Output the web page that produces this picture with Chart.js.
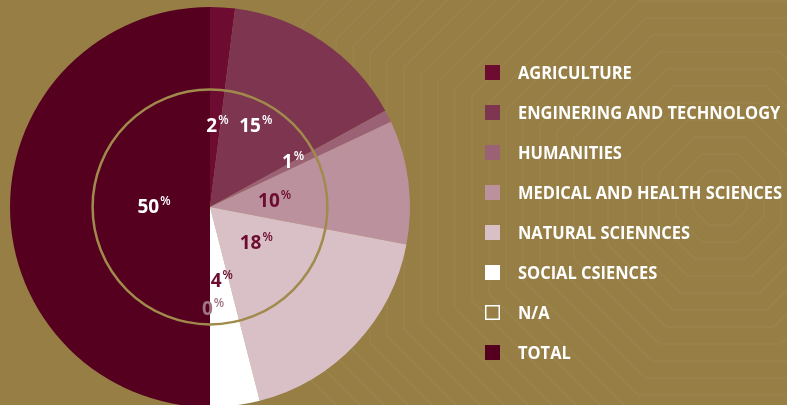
<!DOCTYPE html>
<html lang="en">
  <head>
    <meta charset="UTF-8" />
    <script src="https://cdn.jsdelivr.net/npm/chart.js@4.4.0/dist/chart.umd.min.js"></script>
    <title>Fields of study</title>
    <style>
      html, body {
        margin: 0;
        padding: 0;
        width: 787px;
        height: 405px;
        overflow: hidden;
        background: #967e44;
      }
      canvas { display: block; }
    </style>
  </head>
  <body>
    <canvas id="pie" width="787" height="420"></canvas>
    <script>
      const categories = [
        'AGRICULTURE',
        'ENGINERING AND TECHNOLOGY',
        'HUMANITIES',
        'MEDICAL AND HEALTH SCIENCES',
        'NATURAL SCIENNCES',
        'SOCIAL CSIENCES',
        'N/A',
        'TOTAL',
      ]
      const shares = [2, 15, 1, 10, 18, 4, 0, 50]

      const colors = ['#6d0b30', '#7e3650', '#9b6275', '#bc919e', '#d8c0c6', '#ffffff', 'rgba(0,0,0,0)', '#55001f']
      const labelColors = ['#fff', '#fff', '#fff', '#6d0b30', '#6d0b30', '#6d0b30', '#a07585', '#fff']
      // label placement: fraction of radius, and a nudge (degrees) off the slice middle
      const labelDist = [0.41, 0.47, 0.475, 0.325, 0.29, 0.37, 0.505, 0.28]
      const labelTurn = [1.6, -5.1, -2, 1, -6, -2, -1.7, 1.5]

      const FONT = '"Open Sans", sans-serif'

      const backdrop = {
        id: 'backdrop',
        beforeDraw(chart) {
          const ctx = chart.ctx
          ctx.save()
          ctx.strokeStyle = 'rgba(255,255,255,0.05)'
          ctx.lineWidth = 1.5
          // faint concentric octagons behind the legend
          for (let h = 27; h < 420; h += 17) {
            const c = h * 0.414
            const ox = 720, oy = 198
            ctx.beginPath()
            ctx.moveTo(ox - c, oy - h)
            ctx.lineTo(ox + c, oy - h)
            ctx.lineTo(ox + h, oy - c)
            ctx.lineTo(ox + h, oy + c)
            ctx.lineTo(ox + c, oy + h)
            ctx.lineTo(ox - c, oy + h)
            ctx.lineTo(ox - h, oy + c)
            ctx.lineTo(ox - h, oy - c)
            ctx.closePath()
            ctx.stroke()
          }
          ctx.restore()
        },
      }

      const pctLabels = {
        id: 'pctLabels',
        afterDatasetsDraw(chart) {
          const ctx = chart.ctx
          const arcs = chart.getDatasetMeta(0).data
          const { x: cx, y: cy, outerRadius } = arcs[0]

          // gold inner ring
          ctx.save()
          ctx.beginPath()
          ctx.arc(cx, cy, outerRadius * 0.587, 0, Math.PI * 2)
          ctx.strokeStyle = '#a08a4c'
          ctx.lineWidth = 2.5
          ctx.stroke()

          ctx.textBaseline = 'alphabetic'
          ctx.textAlign = 'left'
          arcs.forEach((arc, i) => {
            const a = (arc.startAngle + arc.endAngle) / 2 + labelTurn[i] * Math.PI / 180
            const r = outerRadius * labelDist[i]
            const x = cx + Math.cos(a) * r
            const y = cy + Math.sin(a) * r
            const num = String(shares[i])
            ctx.font = '700 19px ' + FONT
            const w1 = ctx.measureText(num).width
            ctx.font = '600 12px ' + FONT
            const w2 = ctx.measureText('%').width
            const left = x - (w1 + w2 + 1) / 2
            ctx.fillStyle = labelColors[i]
            ctx.font = '700 19px ' + FONT
            ctx.fillText(num, left, y + 7)
            ctx.font = '600 12px ' + FONT
            ctx.fillText('%', left + w1 + 1, y - 1)
          })
          ctx.restore()
        },
      }

      const sideLegend = {
        id: 'sideLegend',
        afterDraw(chart) {
          const ctx = chart.ctx
          ctx.save()
          ctx.textBaseline = 'alphabetic'
          ctx.font = '700 17px ' + FONT
          const widest = Math.max(...categories.map((c) => ctx.measureText(c).width))
          const squeeze = Math.min(1, 264 / widest)
          categories.forEach((name, i) => {
            const y = 72.5 + i * 40
            if (name === 'N/A') {
              ctx.strokeStyle = '#fff'
              ctx.lineWidth = 1.5
              ctx.strokeRect(485.75, y - 6.75, 13.5, 13.5)
            } else {
              ctx.fillStyle = colors[i]
              ctx.fillRect(485, y - 7.5, 15, 15)
            }
            ctx.fillStyle = '#fff'
            ctx.save()
            ctx.translate(518, y + 6.5)
            ctx.scale(squeeze, 1)
            ctx.fillText(name, 0, 0)
            ctx.restore()
          })
          ctx.restore()
        },
      }

      new Chart(document.getElementById('pie'), {
        type: 'pie',
        data: {
          labels: categories,
          datasets: [
            {
              data: shares,
              backgroundColor: colors,
              borderWidth: 0,
            },
          ],
        },
        options: {
          responsive: false,
          animation: false,
          layout: { padding: { left: 10, top: 7, right: 377, bottom: 13 } },
          plugins: {
            legend: { display: false },
            tooltip: { enabled: false },
          },
        },
        plugins: [backdrop, pctLabels, sideLegend],
      })
    </script>
  </body>
</html>
